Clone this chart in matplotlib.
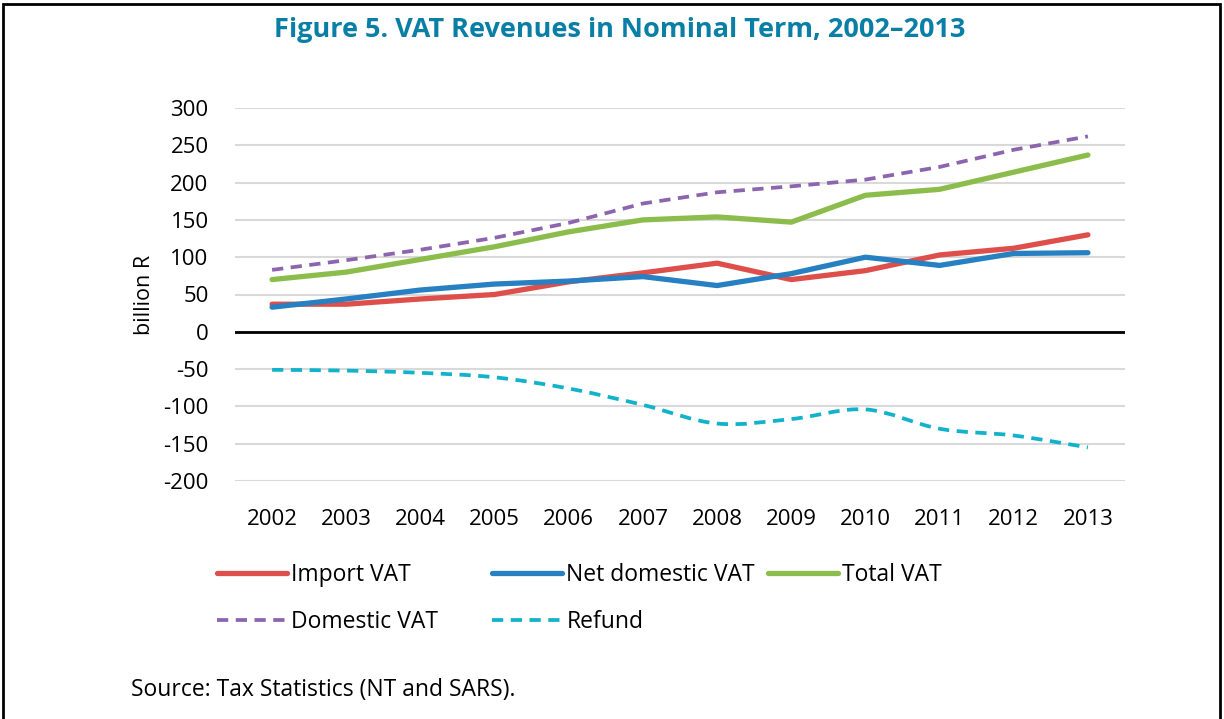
import matplotlib
matplotlib.use("Agg")
import matplotlib.pyplot as plt
import numpy as np
from matplotlib.path import Path
from matplotlib.patches import PathPatch, Rectangle
from matplotlib.lines import Line2D

plt.rcParams['font.family'] = ['Open Sans', 'DejaVu Sans']

years = ['2002', '2003', '2004', '2005', '2006', '2007', '2008', '2009', '2010', '2011', '2012', '2013']
import_vat = [37, 37, 44, 50, 67, 79, 92, 70, 82, 103, 112, 130]
net_domestic_vat = [33, 44, 56, 64, 68, 74, 62, 78, 100, 89, 105, 106]
total_vat = [70, 80, 97, 114, 134, 150, 154, 147, 183, 191, 214, 237]
domestic_vat = [83, 96, 110, 126, 146, 172, 187, 195, 204, 221, 244, 262]
refund = [-51, -52, -55, -61, -76, -98, -123, -117, -104, -130, -139, -155]
yticks = [300, 250, 200, 150, 100, 50, 0, -50, -100, -150, -200]

c_red = '#DE4F4C'
c_blue = '#2680C2'
c_green = '#8CBD4C'
c_purple = '#8C65AE'
c_cyan = '#12B2CA'
c_title = '#0A7FA6'

fig = plt.figure(figsize=(12.24, 7.19), dpi=100)
ax = fig.add_axes([235/1224, 1-481/719, 890/1224, 373/719])

x = np.arange(len(years))
lw = 3.8
ax.plot(x, import_vat, color=c_red, lw=lw, solid_capstyle='round', zorder=3)
ax.plot(x, net_domestic_vat, color=c_blue, lw=lw, solid_capstyle='round', zorder=3)
ax.plot(x, total_vat, color=c_green, lw=lw, solid_capstyle='round', zorder=3)
ax.plot(x, domestic_vat, color=c_purple, lw=2.7, ls=(0, (3, 2)), zorder=3)

# smoothed refund line (Excel-style smoothing)
y = np.array(refund, dtype=float)
xs = x.astype(float)
verts = [(xs[0], y[0])]
codes = [Path.MOVETO]
n = len(xs)
for i in range(n - 1):
    p0 = np.array([xs[max(i-1, 0)], y[max(i-1, 0)]])
    p1 = np.array([xs[i], y[i]])
    p2 = np.array([xs[i+1], y[i+1]])
    p3 = np.array([xs[min(i+2, n-1)], y[min(i+2, n-1)]])
    c1 = p1 + (p2 - p0) / 6.0
    c2 = p2 - (p3 - p1) / 6.0
    verts += [tuple(c1), tuple(c2), tuple(p2)]
    codes += [Path.CURVE4] * 3
patch = PathPatch(Path(verts, codes), facecolor='none', edgecolor=c_cyan, lw=2.7,
                  linestyle=(0, (3, 2)), zorder=3)
ax.add_patch(patch)

ax.set_xlim(-0.5, len(years) - 0.5)
ax.set_ylim(-200, 300)
ax.set_yticks(yticks)
ax.set_yticklabels([str(v) for v in yticks])
ax.set_xticks(x)
ax.set_xticklabels(years)
ax.tick_params(axis='both', length=0, labelsize=16, colors='black')
ax.tick_params(axis='y', pad=19)
ax.tick_params(axis='x', pad=20)
for s in ax.spines.values():
    s.set_visible(False)
ax.grid(axis='y', color='#D9D9D9', lw=1.5, zorder=1)
ax.axhline(0, color='black', lw=2, zorder=2)
ax.set_ylabel('billion R', fontsize=15.5, labelpad=6)

fig.text(620/1224, 1-30/719, 'Figure 5. VAT Revenues in Nominal Term, 2002\u20132013',
         ha='center', va='center', fontsize=19.5, fontweight='bold', color=c_title)
fig.text(131/1224, 1-690/719, 'Source: Tax Statistics (NT and SARS).', ha='left',
         va='center', fontsize=16.5)

# legend in three columns
def mk(c, ls, w):
    return Line2D([0], [0], color=c, lw=w, ls=ls, solid_capstyle='round')

cols = [
    ([mk(c_red, '-', lw), mk(c_purple, (0, (3, 2)), 2.7)], ['Import VAT', 'Domestic VAT'], 217),
    ([mk(c_blue, '-', lw), mk(c_cyan, (0, (3, 2)), 2.7)], ['Net domestic VAT', 'Refund'], 492),
    ([mk(c_green, '-', lw)], ['Total VAT'], 768),
]
for h, l, xp in cols:
    leg = fig.legend(h, l, loc='upper left', bbox_to_anchor=(xp/1224, 1-563/719),
                     frameon=False, fontsize=16.5, handlelength=3.05, handletextpad=0.2,
                     labelspacing=1.0, borderpad=0, borderaxespad=0)

fig.add_artist(Rectangle((3/1224, -0.02), 1217/1224, 1.02 - 4/719, transform=fig.transFigure,
                         fill=False, edgecolor='black', lw=2))

fig.savefig('out.png', dpi=100)
